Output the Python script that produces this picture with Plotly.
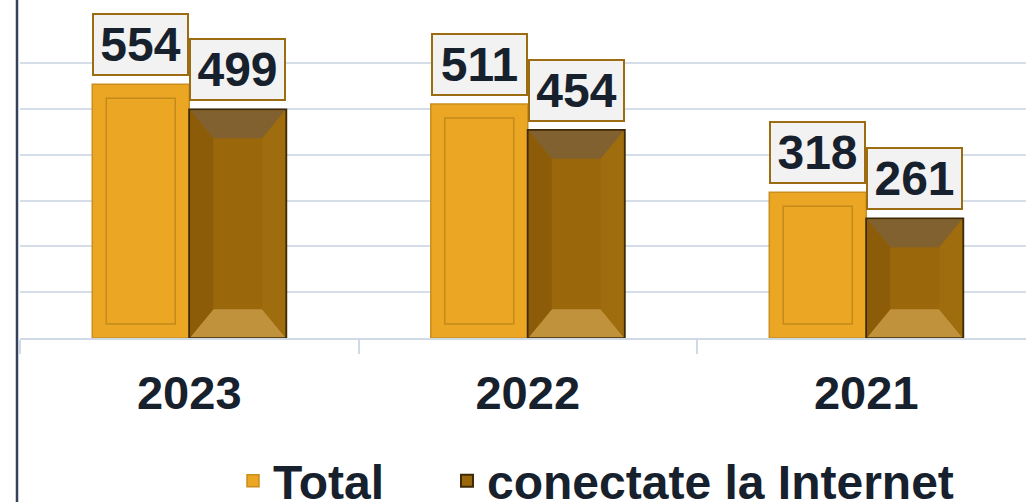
import plotly.graph_objects as go

# ---- data ----
years = ["2023", "2022", "2021"]
total = [554, 511, 318]
connected = [499, 454, 261]
series_names = ["Total", "conectate la Internet"]
grid_vals = [100, 200, 300, 400, 500, 600]

# ---- style ----
W, H = 1026, 502
ML, MT, MB = 20, 0, 164
plot_w = W - ML
plot_h = H - MT - MB
px_per_unit = 0.458
y_max = plot_h / px_per_unit
cat_px = 338.5
x_max = -0.5 + plot_w / cat_px
bargap = 0.427
group = 1 - bargap
half = group / 2

FONT = "Liberation Sans, Arial, sans-serif"
TXT = "#17212d"
GOLD = "#EBA724"
BROWN = "#9A670B"
LEGEND_FONT = dict(family=FONT, size=48, color=TXT, weight="bold")

fig = go.Figure()
fig.add_trace(go.Bar(x=years, y=total, name=series_names[0], legend="legend",
                     marker=dict(color=GOLD, line=dict(color="#C98E1E", width=1.5))))
fig.add_trace(go.Bar(x=years, y=connected, name=series_names[1], legend="legend2",
                     marker=dict(color=BROWN, line=dict(color="#3E2A06", width=2))))

shapes = []
ix = 14 / cat_px
iy = 14 / px_per_unit
bx = 23 / cat_px
by = 28 / px_per_unit


def P(pts):
    return "M " + " L ".join(f"{x},{y}" for x, y in pts) + " Z"


for i, (t, c) in enumerate(zip(total, connected)):
    # inner frame of Total bar
    shapes.append(dict(type="rect", xref="x", yref="y",
                       x0=i - half + ix, x1=i - ix, y0=iy, y1=t - iy,
                       line=dict(color="#C48A1C", width=1.5), fillcolor="rgba(0,0,0,0)",
                       layer="above"))
    # bevel of connected bar
    xl, xr = i + 0.003, i + half - 0.003
    yb, yt = 1.5, c - 1.5
    shapes.append(dict(type="path", xref="x", yref="y", layer="above",
                       path=P([(xl, yt), (xr, yt), (xr - bx, yt - by), (xl + bx, yt - by)]),
                       fillcolor="#80612F", line=dict(width=0)))
    shapes.append(dict(type="path", xref="x", yref="y", layer="above",
                       path=P([(xl, yb), (xr, yb), (xr - bx, yb + by), (xl + bx, yb + by)]),
                       fillcolor="#C0923C", line=dict(width=0)))
    shapes.append(dict(type="path", xref="x", yref="y", layer="above",
                       path=P([(xl, yb), (xl, yt), (xl + bx, yt - by), (xl + bx, yb + by)]),
                       fillcolor="#8C5C08", line=dict(width=0)))
    shapes.append(dict(type="path", xref="x", yref="y", layer="above",
                       path=P([(xr, yb), (xr, yt), (xr - bx, yt - by), (xr - bx, yb + by)]),
                       fillcolor="#9F6C0E", line=dict(width=0)))

# left border line of chart area
shapes.append(dict(type="line", xref="paper", yref="paper",
                   x0=-3 / plot_w, x1=-3 / plot_w, y0=-0.6, y1=1.05,
                   line=dict(color="#34435A", width=2.5)))

annotations = []
for i, (t, c) in enumerate(zip(total, connected)):
    for xv, v in ((i - half / 2, t), (i + half / 2, c)):
        annotations.append(dict(x=xv, y=v, xref="x", yref="y", text=str(v),
                                showarrow=False, yanchor="bottom", xanchor="center",
                                yshift=8, width=93, height=59,
                                bgcolor="#F2F2F2", bordercolor="#9C6C12", borderwidth=2,
                                borderpad=0,
                                font=dict(family=FONT, size=48, color=TXT, weight="bold")))

leg_y = -(481 - 338) / plot_h
fig.update_layout(
    width=W, height=H,
    margin=dict(l=ML, r=0, t=MT, b=MB, autoexpand=False),
    paper_bgcolor="white", plot_bgcolor="white",
    barmode="group", bargap=bargap, bargroupgap=0,
    shapes=shapes, annotations=annotations,
    showlegend=True,
    legend=dict(orientation="h", x=(233 - ML) / plot_w, xanchor="left",
                y=leg_y, yanchor="middle", font=LEGEND_FONT,
                bgcolor="rgba(0,0,0,0)"),
    legend2=dict(orientation="h", x=(447 - ML) / plot_w, xanchor="left",
                 y=leg_y, yanchor="middle", font=LEGEND_FONT,
                 bgcolor="rgba(0,0,0,0)"),
    xaxis=dict(type="category", range=[-0.5, x_max], showgrid=False,
               showline=True, linecolor="#CFDAE6", linewidth=2,
               ticks="outside", tickson="boundaries", ticklen=14,
               tickcolor="#CFDAE6", tickwidth=2, ticklabelstandoff=13,
               tickfont=dict(family=FONT, size=47, color=TXT, weight="bold")),
    yaxis=dict(range=[0, y_max], tickvals=grid_vals, showticklabels=False,
               showgrid=True, gridcolor="#D5DEE8", gridwidth=2,
               zeroline=False, showline=False),
)

fig.write_html("out.html", config={"displayModeBar": False},
               post_script="document.body.style.margin='0';document.body.style.overflow='hidden';")
